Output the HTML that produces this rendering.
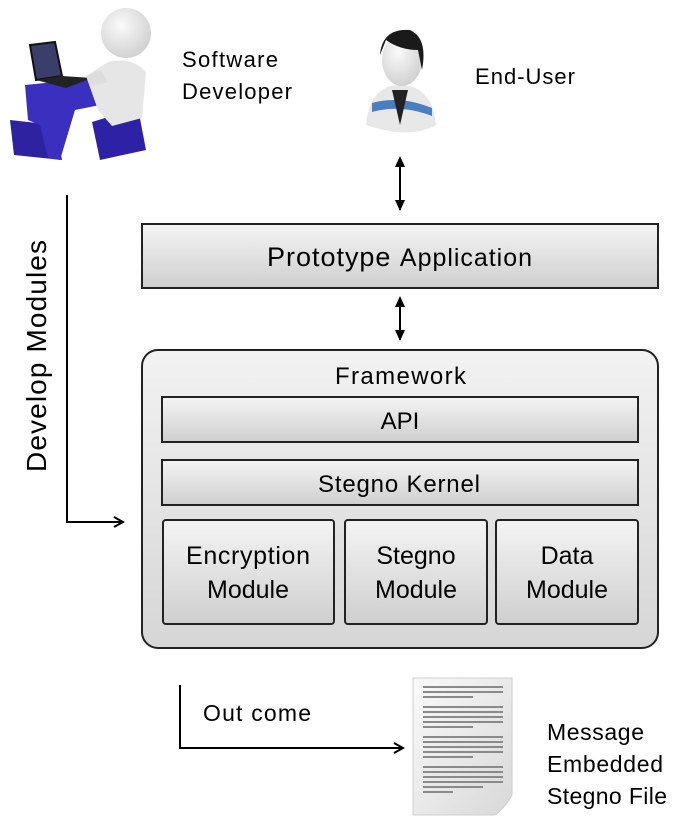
<!DOCTYPE html>
<html><head><meta charset="utf-8"><style>
html,body{margin:0;padding:0;background:#fff;}
svg{display:block;font-family:"Liberation Sans","DejaVu Sans",sans-serif;}
</style></head><body>
<svg width="689" height="828" viewBox="0 0 689 828" xmlns="http://www.w3.org/2000/svg">
<defs>
<linearGradient id="g" x1="0" y1="0" x2="0" y2="1"><stop offset="0" stop-color="#f4f4f4"/><stop offset="1" stop-color="#cfcfcf"/></linearGradient>
<linearGradient id="gb" x1="0" y1="0" x2="0" y2="1"><stop offset="0" stop-color="#f2f2f2"/><stop offset="1" stop-color="#d6d6d6"/></linearGradient>
<linearGradient id="doc" x1="0" y1="0" x2="1" y2="1"><stop offset="0" stop-color="#fafafa"/><stop offset="1" stop-color="#d8d8d8"/></linearGradient>
<radialGradient id="head" cx="0.4" cy="0.35" r="0.7"><stop offset="0" stop-color="#fafafa"/><stop offset="1" stop-color="#cfcfcf"/></radialGradient>
<marker id="ah" markerWidth="12" markerHeight="12" refX="10" refY="6" orient="auto" markerUnits="userSpaceOnUse"><path d="M1,1 L10,6 L1,11" fill="none" stroke="#000" stroke-width="2"/></marker>
<marker id="at" markerWidth="12" markerHeight="12" refX="10" refY="6" orient="auto" markerUnits="userSpaceOnUse"><path d="M0,1 L11,6 L0,11 Z" fill="#000"/></marker>
<marker id="as" markerWidth="12" markerHeight="12" refX="2" refY="6" orient="auto" markerUnits="userSpaceOnUse"><path d="M11,1 L0,6 L11,11 Z" fill="#000"/></marker>
</defs>

<!-- developer figure -->
<g>
<path d="M10 120 L55 125 L62 160 L14 155 Z" fill="#2e22a0"/>
<path d="M25 85 L95 78 L100 105 L75 110 L60 160 L48 158 L40 125 L28 120 Z" fill="#3a2fbf"/>
<path d="M92 122 L138 108 L146 150 L100 160 Z" fill="#2d22a6"/>
<path d="M30 45 L55 42 L62 76 L36 80 Z" fill="#3b3d6a" stroke="#111" stroke-width="2"/>
<path d="M36 80 L62 76 L92 78 L66 88 Z" fill="#222"/>
<circle cx="126" cy="33" r="25" fill="url(#head)"/>
<path d="M108 62 Q132 56 146 72 L142 118 L112 126 L98 110 L86 76 Z" fill="#e6e6e6"/>
<path d="M86 76 L100 70 L108 82 L92 86 Z" fill="#ddd"/>
</g>
<text x="182" y="67" font-size="22" textLength="96">Software</text>
<text x="182" y="99" font-size="22" textLength="110">Developer</text>

<!-- end user -->
<g>
<path d="M366 125 Q370 85 400 85 Q432 85 436 125 Q410 140 366 125 Z" fill="#e8e8e8"/>
<path d="M372 103 Q400 95 432 108 L432 116 Q400 104 372 112 Z" fill="#4a7fbf"/>
<path d="M392 90 L400 125 L408 90 Z" fill="#222"/>
<ellipse cx="402" cy="60" rx="20" ry="26" fill="url(#head)"/>
<path d="M380 55 Q382 28 410 30 Q428 38 422 70 L418 50 Q400 50 386 40 Z" fill="#1a1a1a"/>
</g>
<text x="475" y="84" font-size="22" textLength="100">End-User</text>

<!-- arrows to prototype -->
<line x1="400" y1="158" x2="400" y2="210" stroke="#000" stroke-width="2" marker-start="url(#as)" marker-end="url(#at)"/>
<line x1="400" y1="298" x2="400" y2="340" stroke="#000" stroke-width="2" marker-start="url(#as)" marker-end="url(#at)"/>

<!-- prototype -->
<rect x="142" y="224" width="516" height="64" fill="url(#g)" stroke="#222" stroke-width="2"/>
<text x="267" y="266" font-size="27" textLength="265">Prototype <tspan font-size="25">Application</tspan></text>

<!-- framework -->
<rect x="142" y="350" width="516" height="298" rx="16" fill="url(#gb)" stroke="#222" stroke-width="2"/>
<text x="335" y="384" font-size="24" textLength="131">Framework</text>
<rect x="162" y="397" width="476" height="45" fill="url(#g)" stroke="#222" stroke-width="2"/>
<text x="400" y="429" font-size="24" text-anchor="middle">API</text>
<rect x="162" y="460" width="476" height="45" fill="url(#g)" stroke="#222" stroke-width="2"/>
<text x="318" y="492" font-size="24" textLength="162">Stegno Kernel</text>
<rect x="163" y="520" width="171" height="104" rx="3" fill="url(#g)" stroke="#222" stroke-width="2"/>
<text x="186" y="564" font-size="25" textLength="124">Encryption</text>
<text x="248" y="598" font-size="25" text-anchor="middle">Module</text>
<rect x="345" y="520" width="142" height="104" rx="3" fill="url(#g)" stroke="#222" stroke-width="2"/>
<text x="416" y="564" font-size="25" text-anchor="middle">Stegno</text>
<text x="416" y="598" font-size="25" text-anchor="middle">Module</text>
<rect x="496" y="520" width="142" height="104" rx="3" fill="url(#g)" stroke="#222" stroke-width="2"/>
<text x="567" y="564" font-size="25" text-anchor="middle">Data</text>
<text x="567" y="598" font-size="25" text-anchor="middle">Module</text>

<!-- develop modules arrow -->
<polyline points="67,195 67,522 123,522" fill="none" stroke="#000" stroke-width="2" marker-end="url(#ah)"/>
<text transform="translate(46,472) rotate(-90)" font-size="28" textLength="232">Develop Modules</text>

<!-- outcome -->
<polyline points="180,685 180,748 403,748" fill="none" stroke="#000" stroke-width="2" marker-end="url(#ah)"/>
<text x="203" y="721" font-size="23" textLength="108">Out come</text>

<path d="M413 678 L512 678 L512 795 Q505 808 495 815 L413 815 Z" fill="url(#doc)" stroke="#cfcfcf"/>
<g fill="#8a8a8a">
<rect x="423" y="686" width="80" height="2"/><rect x="423" y="691" width="80" height="2"/><rect x="423" y="696" width="50" height="2"/>
<rect x="423" y="706" width="80" height="2"/><rect x="423" y="711" width="80" height="2"/><rect x="423" y="716" width="80" height="2"/><rect x="423" y="721" width="80" height="2"/><rect x="423" y="726" width="50" height="2"/>
<rect x="423" y="736" width="80" height="2"/><rect x="423" y="741" width="80" height="2"/><rect x="423" y="746" width="80" height="2"/><rect x="423" y="751" width="80" height="2"/><rect x="423" y="756" width="50" height="2"/>
<rect x="423" y="766" width="80" height="2"/><rect x="423" y="771" width="80" height="2"/><rect x="423" y="776" width="80" height="2"/><rect x="423" y="781" width="80" height="2"/><rect x="423" y="786" width="60" height="2"/><rect x="423" y="791" width="30" height="2"/>
</g>
<text x="547" y="740" font-size="23" textLength="97">Message</text>
<text x="547" y="772" font-size="23" textLength="116">Embedded</text>
<text x="547" y="804" font-size="23" textLength="120">Stegno File</text>
</svg>
</body></html>
